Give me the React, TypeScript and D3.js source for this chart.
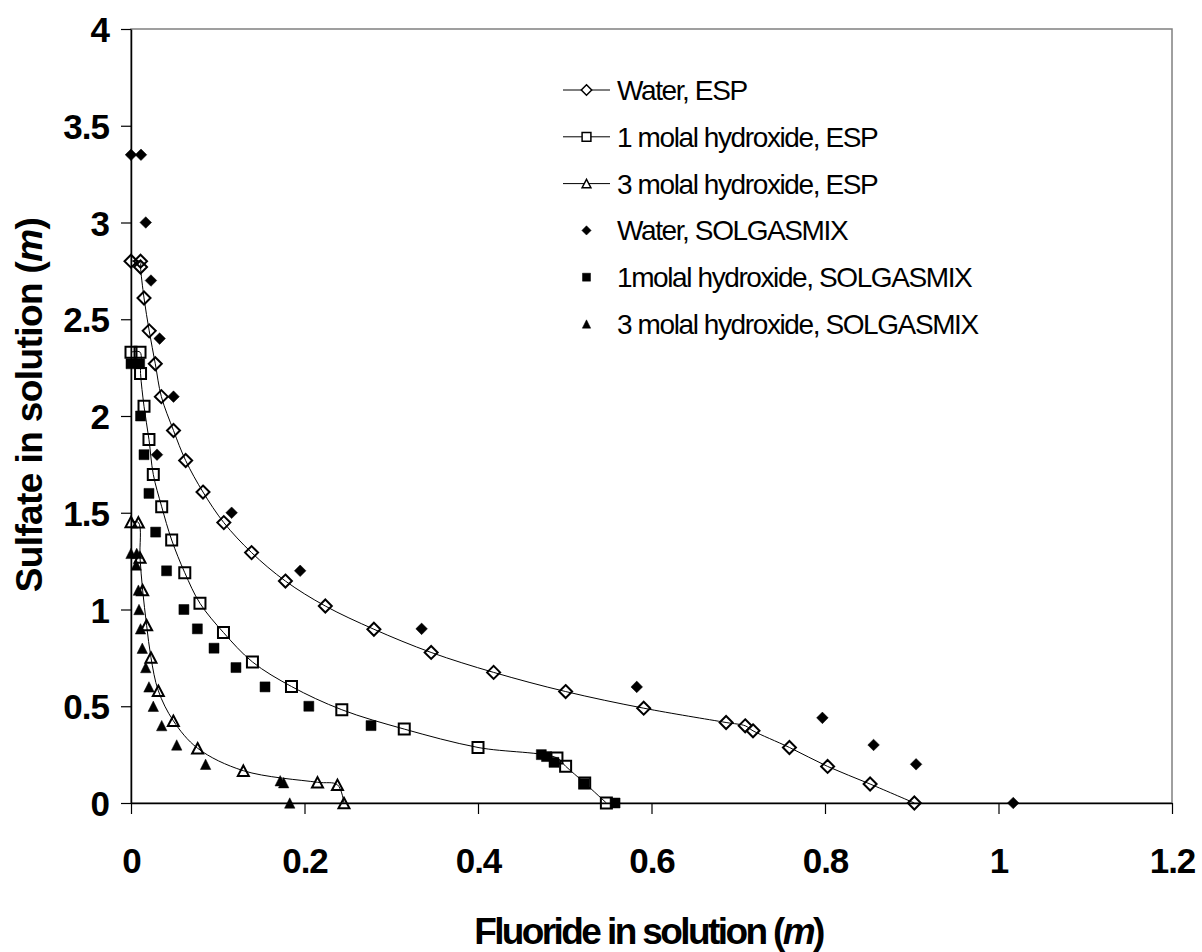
import React, { useRef, useEffect } from "react";
import * as d3 from "d3";

// Tick labels
const xTicks = [0, 0.2, 0.4, 0.6, 0.8, 1, 1.2];
const yTicks = [0, 0.5, 1, 1.5, 2, 2.5, 3, 3.5, 4];

// Water, ESP
const waterEspX = [0, 0.011, 0.011, 0.015, 0.021, 0.028, 0.035, 0.049, 0.063, 0.083, 0.107, 0.139, 0.178, 0.224, 0.28, 0.346, 0.418, 0.501, 0.591, 0.686, 0.708, 0.717, 0.759, 0.803, 0.852, 0.903];
const waterEspY = [2.8, 2.8, 2.77, 2.61, 2.44, 2.27, 2.1, 1.925, 1.77, 1.607, 1.449, 1.294, 1.147, 1.018, 0.898, 0.778, 0.675, 0.576, 0.49, 0.416, 0.399, 0.373, 0.287, 0.189, 0.098, 0];

// 1 molal hydroxide, ESP
const oneEspX = [0, 0.0104, 0.011, 0.015, 0.0207, 0.0257, 0.0354, 0.0469, 0.062, 0.0795, 0.1066, 0.14, 0.185, 0.243, 0.315, 0.4, 0.491, 0.501, 0.523, 0.548];
const oneEspY = [2.33, 2.33, 2.22, 2.05, 1.879, 1.698, 1.531, 1.359, 1.19, 1.032, 0.881, 0.729, 0.602, 0.482, 0.382, 0.287, 0.233, 0.19, 0.103, 0];

// 3 molal hydroxide, ESP
const threeEspX = [0, 0.0085, 0.0104, 0.0134, 0.018, 0.023, 0.0315, 0.0488, 0.0768, 0.1295, 0.215, 0.238, 0.2455];
const threeEspY = [1.452, 1.45, 1.268, 1.1, 0.919, 0.752, 0.58, 0.425, 0.283, 0.167, 0.107, 0.094, 0];

// Water, SOLGASMIX
const waterSolX = [0, 0.0115, 0.017, 0.023, 0.033, 0.049, 0.03, 0.116, 0.195, 0.335, 0.583, 0.797, 0.856, 0.905, 1.017];
const waterSolY = [3.35, 3.35, 3.0, 2.7, 2.4, 2.1, 1.8, 1.5, 1.2, 0.9, 0.6, 0.44, 0.3, 0.2, 0];

// 1molal hydroxide, SOLGASMIX
const oneSolX = [0, 0.01, 0.011, 0.015, 0.0207, 0.0284, 0.041, 0.061, 0.0765, 0.0957, 0.121, 0.1545, 0.205, 0.2767, 0.473, 0.479, 0.4876, 0.5225, 0.558];
const oneSolY = [2.27, 2.27, 2.0, 1.8, 1.6, 1.4, 1.2, 1.0, 0.9, 0.8, 0.7, 0.6, 0.5, 0.4, 0.25, 0.24, 0.21, 0.1, 0];

// 3 molal hydroxide, SOLGASMIX
const threeSolX = [0, 0.0066, 0.006, 0.0085, 0.0092, 0.011, 0.013, 0.017, 0.0207, 0.0257, 0.0354, 0.0527, 0.086, 0.172, 0.176, 0.183];
const threeSolY = [1.29, 1.29, 1.23, 1.1, 1.0, 0.9, 0.8, 0.7, 0.6, 0.5, 0.4, 0.3, 0.2, 0.115, 0.105, 0];

type Shape = "diamond" | "square" | "triangle";
interface Series {
  name: string;
  xs: number[];
  ys: number[];
  shape: Shape;
  filled: boolean;
  line: boolean;
}

const series: Series[] = [
  { name: "Water, ESP", xs: waterEspX, ys: waterEspY, shape: "diamond", filled: false, line: true },
  { name: "1 molal hydroxide, ESP", xs: oneEspX, ys: oneEspY, shape: "square", filled: false, line: true },
  { name: "3 molal hydroxide, ESP", xs: threeEspX, ys: threeEspY, shape: "triangle", filled: false, line: true },
  { name: "Water, SOLGASMIX", xs: waterSolX, ys: waterSolY, shape: "diamond", filled: true, line: false },
  { name: "1molal hydroxide, SOLGASMIX", xs: oneSolX, ys: oneSolY, shape: "square", filled: true, line: false },
  { name: "3 molal hydroxide, SOLGASMIX", xs: threeSolX, ys: threeSolY, shape: "triangle", filled: true, line: false },
];

const FONT = "'Liberation Sans', Arial, Helvetica, sans-serif";

// marker path centred on 0,0; k scales the marker
function markerPath(shape: Shape, filled: boolean, k = 1): string {
  if (shape === "diamond") {
    const r = (filled ? 5.8 : 6.5) * k;
    return `M0,${-r}L${r},0L0,${r}L${-r},0Z`;
  }
  if (shape === "square") {
    const h = (filled ? 5 : 5.5) * k;
    return `M${-h},${-h}H${h}V${h}H${-h}Z`;
  }
  const w = (filled ? 5.2 : 5.5) * k;
  const t = (filled ? 5.2 : 5.2) * k;
  return `M0,${-t}L${w},${t}L${-w},${t}Z`;
}

const Chart = () => {
  const svgRef = useRef<SVGSVGElement>(null);

  useEffect(() => {
    document.body.style.margin = "0";
    const svg = d3.select(svgRef.current);
    svg.selectAll("*").remove();

    const width = 1202;
    const height = 952;
    const left = 131, right = 1172, top = 29, bottom = 803;

    svg.attr("width", width).attr("height", height);

    const x = d3.scaleLinear().domain([0, 1.2]).range([left, right]);
    const y = d3.scaleLinear().domain([0, 4]).range([bottom, top]);

    svg.append("rect").attr("width", width).attr("height", height).attr("fill", "#fff");

    // plot area border
    svg.append("rect")
      .attr("x", left).attr("y", top)
      .attr("width", right - left).attr("height", bottom - top)
      .attr("fill", "none").attr("stroke", "#808080").attr("stroke-width", 1.5);

    // axes
    const xAxis = svg.append("g")
      .attr("transform", `translate(0,${bottom})`)
      .call(d3.axisBottom(x).tickValues(xTicks).tickSize(11).tickSizeOuter(0).tickFormat((d) => String(d)));
    const yAxis = svg.append("g")
      .attr("transform", `translate(${left},0)`)
      .call(d3.axisLeft(y).tickValues(yTicks).tickSize(10).tickSizeOuter(0).tickFormat((d) => String(d)));

    [xAxis, yAxis].forEach((g) => {
      g.select(".domain").attr("stroke", "#000").attr("stroke-width", 1.5);
      g.selectAll(".tick line").attr("stroke", "#000").attr("stroke-width", 1.2);
      g.selectAll(".tick text")
        .attr("fill", "#000")
        .style("font-family", FONT)
        .style("font-size", "35px")
        .style("font-weight", "bold")
        .style("letter-spacing", "-1px");
    });
    xAxis.selectAll(".tick text").attr("y", 70).attr("dy", 0);
    yAxis.selectAll(".tick text").attr("x", -22).attr("dy", "0.36em");

    // axis titles
    const xt = svg.append("text")
      .attr("x", (left + right) / 2 - 3).attr("y", 944)
      .attr("text-anchor", "middle")
      .style("font-family", FONT).style("font-size", "37px").style("font-weight", "bold")
      .style("letter-spacing", "-2.6px");
    xt.append("tspan").text("Fluoride in solution (");
    xt.append("tspan").style("font-style", "italic").text("m");
    xt.append("tspan").text(")");

    const yt = svg.append("text")
      .attr("transform", `translate(42,405) rotate(-90)`)
      .attr("text-anchor", "middle")
      .style("font-family", FONT).style("font-size", "37px").style("font-weight", "bold")
      .style("letter-spacing", "-0.6px");
    yt.append("tspan").text("Sulfate in solution (");
    yt.append("tspan").style("font-style", "italic").text("m");
    yt.append("tspan").text(")");

    const line = d3.line<[number, number]>()
      .x((d) => x(d[0]))
      .y((d) => y(d[1]))
      .curve(d3.curveCatmullRom.alpha(0.5));

    // series lines and markers
    series.forEach((s) => {
      const pts: [number, number][] = s.xs.map((v, i) => [v, s.ys[i]]);
      const g = svg.append("g");
      if (s.line) {
        g.append("path")
          .attr("d", line(pts))
          .attr("fill", "none")
          .attr("stroke", "#000")
          .attr("stroke-width", 1);
      }
      g.selectAll("path.m")
        .data(pts)
        .join("path")
        .attr("class", "m")
        .attr("transform", (d) => `translate(${x(d[0])},${y(d[1])})`)
        .attr("d", markerPath(s.shape, s.filled))
        .attr("fill", s.filled ? "#000" : "none")
        .attr("stroke", "#000")
        .attr("stroke-width", s.filled ? 0.5 : 2);
    });

    // legend
    const lx = 563, lx2 = 610, tx = 617, ly0 = 90, step = 46.8;
    series.forEach((s, i) => {
      const ly = ly0 + i * step;
      const g = svg.append("g");
      if (s.line) {
        g.append("line")
          .attr("x1", lx).attr("x2", lx2).attr("y1", ly).attr("y2", ly)
          .attr("stroke", "#000").attr("stroke-width", 1);
      }
      g.append("path")
        .attr("transform", `translate(${(lx + lx2) / 2},${ly})`)
        .attr("d", markerPath(s.shape, s.filled, 0.8))
        .attr("fill", s.filled ? "#000" : "#fff")
        .attr("stroke", "#000")
        .attr("stroke-width", s.filled ? 0.5 : 1.5);
      g.append("text")
        .attr("x", tx).attr("y", ly + 10)
        .style("font-family", FONT).style("font-size", "28px")
        .style("letter-spacing", "-1.4px")
        .text(s.name);
    });
  }, []);

  return <svg ref={svgRef} style={{ display: "block" }}></svg>;
};

export default function App() {
  return <Chart />;
}
